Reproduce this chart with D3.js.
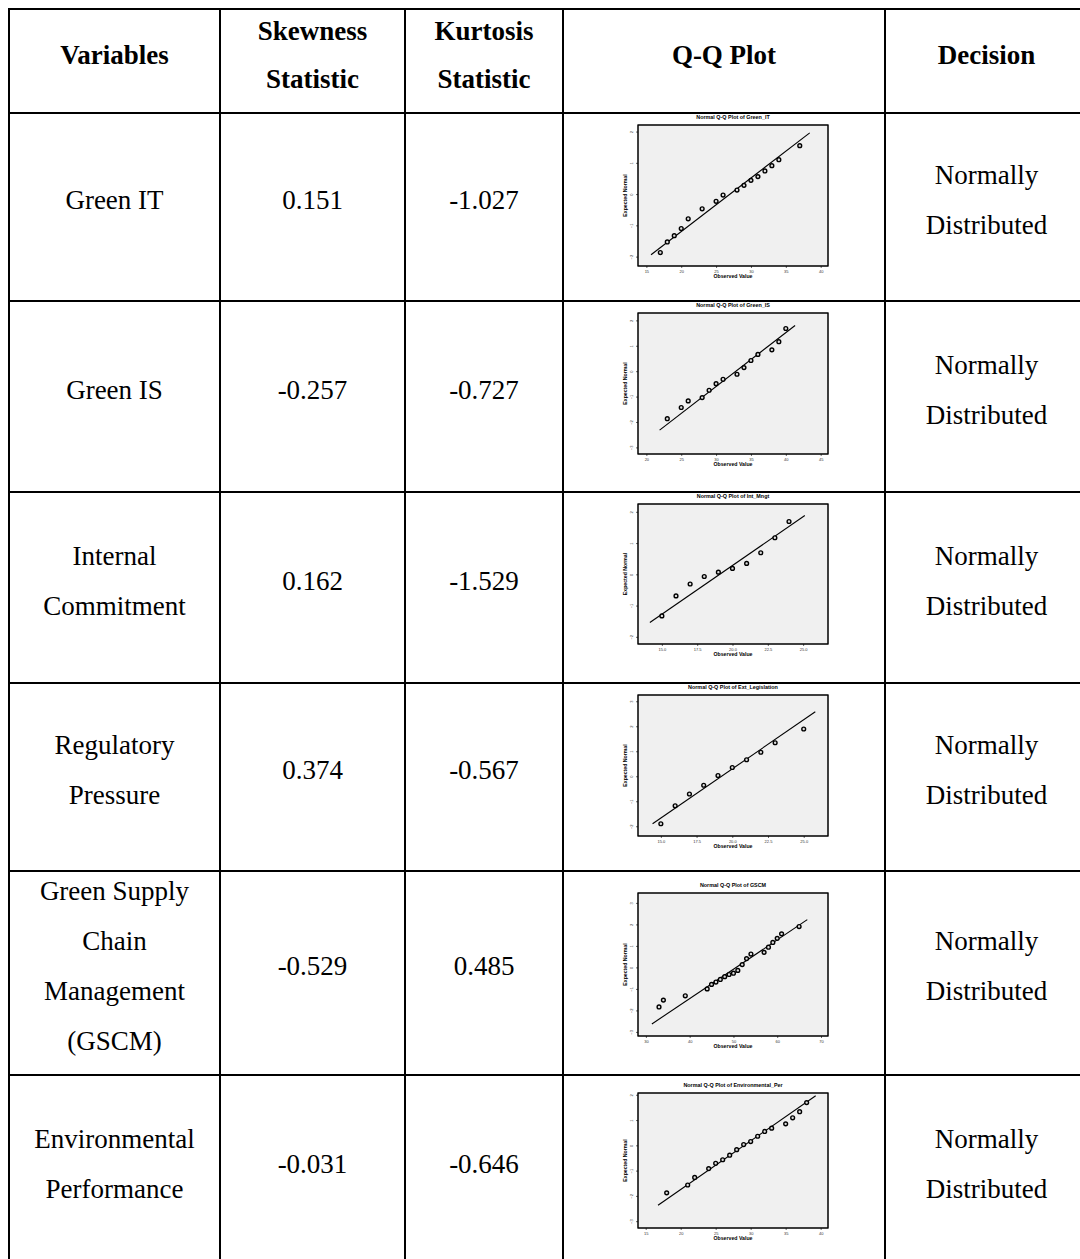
<!DOCTYPE html>
<html>
<head>
<meta charset="utf-8">
<script src="https://cdn.jsdelivr.net/npm/d3@7"></script>
<style>
  html, body { margin: 0; padding: 0; background: #fff; }
  svg { display: block; }
</style>
</head>
<body>
<svg id="chart" width="1080" height="1259"></svg>
<script>
// ---- Table content ----
const headers = [["Variables"], ["Skewness", "Statistic"], ["Kurtosis", "Statistic"], ["Q-Q Plot"], ["Decision"]];
const variables = [
  ["Green IT"],
  ["Green IS"],
  ["Internal", "Commitment"],
  ["Regulatory", "Pressure"],
  ["Green Supply", "Chain", "Management", "(GSCM)"],
  ["Environmental", "Performance"]
];
const skewness = [0.151, -0.257, 0.162, 0.374, -0.529, -0.031];
const kurtosis = [-1.027, -0.727, -1.529, -0.567, 0.485, -0.646];
const decisions = [
  ["Normally", "Distributed"], ["Normally", "Distributed"], ["Normally", "Distributed"],
  ["Normally", "Distributed"], ["Normally", "Distributed"], ["Normally", "Distributed"]
];

// ---- Q-Q plot data (observed value, expected normal) ----
const qqTitles = [
  "Normal Q-Q Plot of Green_IT",
  "Normal Q-Q Plot of Green_IS",
  "Normal Q-Q Plot of Int_Mngt",
  "Normal Q-Q Plot of Ext_Legislation",
  "Normal Q-Q Plot of GSCM",
  "Normal Q-Q Plot of Environmental_Per"
];
const greenITObserved = [17, 18, 19, 20, 21, 23, 25, 26, 28, 29, 30, 31, 32, 33, 34, 37];
const greenITExpected = [-1.87, -1.53, -1.33, -1.10, -0.79, -0.47, -0.23, -0.03, 0.13, 0.28, 0.44, 0.56, 0.74, 0.91, 1.10, 1.55];
const greenISObserved = [23, 25, 26, 28, 29, 30, 31, 33, 34, 35, 36, 38, 39, 40];
const greenISExpected = [-1.87, -1.43, -1.17, -1.04, -0.75, -0.49, -0.32, -0.12, 0.14, 0.42, 0.66, 0.84, 1.16, 1.68];
const intMngtObserved = [15, 16, 17, 18, 19, 20, 21, 22, 23, 24];
const intMngtExpected = [-1.33, -0.69, -0.31, -0.07, 0.07, 0.19, 0.35, 0.69, 1.17, 1.69];
const extLegObserved = [15, 16, 17, 18, 19, 20, 21, 22, 23, 25];
const extLegExpected = [-1.90, -1.18, -0.71, -0.36, 0.03, 0.35, 0.66, 0.96, 1.34, 1.89];
const gscmObserved = [33, 34, 39, 44, 45, 46, 47, 48, 49, 50, 51, 52, 53, 54, 57, 58, 59, 60, 61, 65];
const gscmExpected = [-1.84, -1.52, -1.32, -1.00, -0.79, -0.68, -0.56, -0.43, -0.33, -0.27, -0.14, 0.13, 0.41, 0.62, 0.70, 0.94, 1.16, 1.35, 1.56, 1.90];
const envPerObserved = [18, 21, 22, 24, 25, 26, 27, 28, 29, 30, 31, 32, 33, 35, 36, 37, 38];
const envPerExpected = [-1.88, -1.57, -1.27, -0.92, -0.71, -0.57, -0.39, -0.17, 0.03, 0.15, 0.36, 0.55, 0.68, 0.85, 1.09, 1.33, 1.69];

// Reference line end points [observed, expected]
const qqLines = [
  [[15.67, -1.94], [38.43, 1.96]],
  [[21.9, -2.32], [41.33, 1.80]],
  [[14.15, -1.54], [25.12, 1.88]],
  [[14.42, -1.90], [25.81, 2.58]],
  [[31.37, -2.63], [66.87, 2.22]],
  [[16.76, -2.37], [39.29, 1.96]]
];
const qqXDomains = [[13.8, 41.05], [18.8, 46.05], [13.31, 26.76], [13.4, 26.7], [28.2, 71.6], [13.9, 41.05]];
const qqYDomains = [[-2.30, 2.21], [-3.26, 2.29], [-2.23, 2.25], [-2.39, 3.25], [-3.19, 3.46], [-3.27, 2.07]];
const qqXTicks = [
  [15, 20, 25, 30, 35, 40],
  [20, 25, 30, 35, 40, 45],
  [15, 17.5, 20, 22.5, 25],
  [15, 17.5, 20, 22.5, 25],
  [30, 40, 50, 60, 70],
  [15, 20, 25, 30, 35, 40]
];
const qqYTicks = [
  [-2, -1, 0, 1, 2],
  [-3, -2, -1, 0, 1, 2],
  [-2, -1, 0, 1, 2],
  [-2, -1, 0, 1, 2, 3],
  [-3, -2, -1, 0, 1, 2, 3],
  [-3, -2, -1, 0, 1, 2]
];
const qqXFormats = [".0f", ".0f", ".1f", ".1f", ".0f", ".0f"];

const qqObserved = [greenITObserved, greenISObserved, intMngtObserved, extLegObserved, gscmObserved, envPerObserved];
const qqExpected = [greenITExpected, greenISExpected, intMngtExpected, extLegExpected, gscmExpected, envPerExpected];

// ---- Layout ----
const svg = d3.select("#chart");
const colEdges = [9, 220, 405, 563, 885, 1088];
const rowEdges = [9, 113, 301, 492, 683, 871, 1075, 1266];
const colCenter = i => (colEdges[i] + colEdges[i + 1]) / 2;
const serif = "'Liberation Serif', 'Times New Roman', Times, serif";
const sans = "'Liberation Sans', Arial, Helvetica, sans-serif";

// Plot frame boxes inside the Q-Q column
const frameX = [638, 828];
const frameY = [[125, 266], [313, 454], [504, 644], [695, 836], [893, 1036], [1093, 1228]];

// Grid lines
const grid = svg.append("g").attr("stroke", "#000").attr("stroke-width", 2);
grid.selectAll("line.h").data(rowEdges).join("line")
  .attr("x1", colEdges[0] - 1).attr("x2", colEdges[colEdges.length - 1])
  .attr("y1", d => d).attr("y2", d => d);
grid.selectAll("line.v").data(colEdges).join("line")
  .attr("x1", d => d).attr("x2", d => d)
  .attr("y1", rowEdges[0] - 1).attr("y2", rowEdges[rowEdges.length - 1]);

// Multi-line centred text
function cellText(lines, cx, cy, opts) {
  const lh = opts.lineHeight;
  const top = cy - (lines.length - 1) * lh / 2;
  const t = svg.append("text")
    .attr("text-anchor", "middle")
    .attr("font-family", serif)
    .attr("font-size", opts.size)
    .attr("font-weight", opts.weight || "normal")
    .attr("fill", "#000");
  lines.forEach((s, i) => {
    t.append("tspan").attr("x", cx).attr("y", top + i * lh + opts.size * 0.34).text(s);
  });
}

// Header row
headers.forEach((h, i) => {
  cellText(h, colCenter(i), 55, { size: 27, weight: "bold", lineHeight: 48 });
});

// Body rows
const fmt = v => v.toFixed(3);
variables.forEach((v, r) => {
  const cy = (rowEdges[r + 1] + rowEdges[r + 2]) / 2 - 7;
  cellText(v, colCenter(0), cy, { size: 27, lineHeight: 50 });
  cellText([fmt(skewness[r])], colCenter(1), cy, { size: 27, lineHeight: 50 });
  cellText([fmt(kurtosis[r])], colCenter(2), cy, { size: 27, lineHeight: 50 });
  cellText(decisions[r], colCenter(4), cy, { size: 27, lineHeight: 50 });
});

// Q-Q plots
qqTitles.forEach((title, p) => {
  const [y0, y1] = frameY[p];
  const x = d3.scaleLinear().domain(qqXDomains[p]).range(frameX);
  const y = d3.scaleLinear().domain(qqYDomains[p]).range([y1, y0]);
  const g = svg.append("g");

  g.append("rect")
    .attr("x", frameX[0]).attr("y", y0)
    .attr("width", frameX[1] - frameX[0]).attr("height", y1 - y0)
    .attr("fill", "#f0f0f0").attr("stroke", "#000").attr("stroke-width", 1);

  const xAxis = g.append("g").attr("transform", `translate(0,${y1})`)
    .call(d3.axisBottom(x).tickValues(qqXTicks[p]).tickFormat(d3.format(qqXFormats[p])).tickSize(2).tickSizeOuter(0));
  xAxis.select(".domain").remove();
  xAxis.selectAll("text").attr("font-size", 4).attr("font-family", sans).attr("fill", "#333").attr("dy", "0.5em");
  xAxis.selectAll("line").attr("stroke-width", 0.6);

  const yAxis = g.append("g").attr("transform", `translate(${frameX[0]},0)`)
    .call(d3.axisLeft(y).tickValues(qqYTicks[p]).tickFormat(d3.format("d")).tickSize(2).tickSizeOuter(0));
  yAxis.select(".domain").remove();
  yAxis.selectAll("line").attr("stroke-width", 0.6);
  yAxis.selectAll("text")
    .attr("font-size", 4).attr("font-family", sans).attr("fill", "#333")
    .attr("x", null).attr("dy", null)
    .attr("text-anchor", "middle")
    .attr("transform", "translate(-5,0) rotate(-90)");

  // Frame drawn again over axes
  g.append("rect")
    .attr("x", frameX[0]).attr("y", y0)
    .attr("width", frameX[1] - frameX[0]).attr("height", y1 - y0)
    .attr("fill", "none").attr("stroke", "#000").attr("stroke-width", 1);

  // Reference line
  const ln = qqLines[p];
  g.append("line")
    .attr("x1", x(ln[0][0])).attr("y1", y(ln[0][1]))
    .attr("x2", x(ln[1][0])).attr("y2", y(ln[1][1]))
    .attr("stroke", "#000").attr("stroke-width", 1.1);

  // Points
  const pts = qqObserved[p].map((o, i) => [o, qqExpected[p][i]]);
  g.selectAll("circle").data(pts).join("circle")
    .attr("cx", d => x(d[0])).attr("cy", d => y(d[1]))
    .attr("r", 1.9).attr("fill", "#ddd").attr("stroke", "#000").attr("stroke-width", 1.4);

  // Titles
  g.append("text")
    .attr("x", (frameX[0] + frameX[1]) / 2).attr("y", y0 - 6)
    .attr("text-anchor", "middle").attr("font-family", sans)
    .attr("font-size", 5.4).attr("font-weight", "bold").text(title);
  g.append("text")
    .attr("x", (frameX[0] + frameX[1]) / 2).attr("y", y1 + 12)
    .attr("text-anchor", "middle").attr("font-family", sans)
    .attr("font-size", 5.2).attr("font-weight", "bold").text("Observed Value");
  g.append("text")
    .attr("transform", `translate(${frameX[0] - 11},${(y0 + y1) / 2}) rotate(-90)`)
    .attr("text-anchor", "middle").attr("font-family", sans)
    .attr("font-size", 5.2).attr("font-weight", "bold").text("Expected Normal");
});
</script>
</body>
</html>
